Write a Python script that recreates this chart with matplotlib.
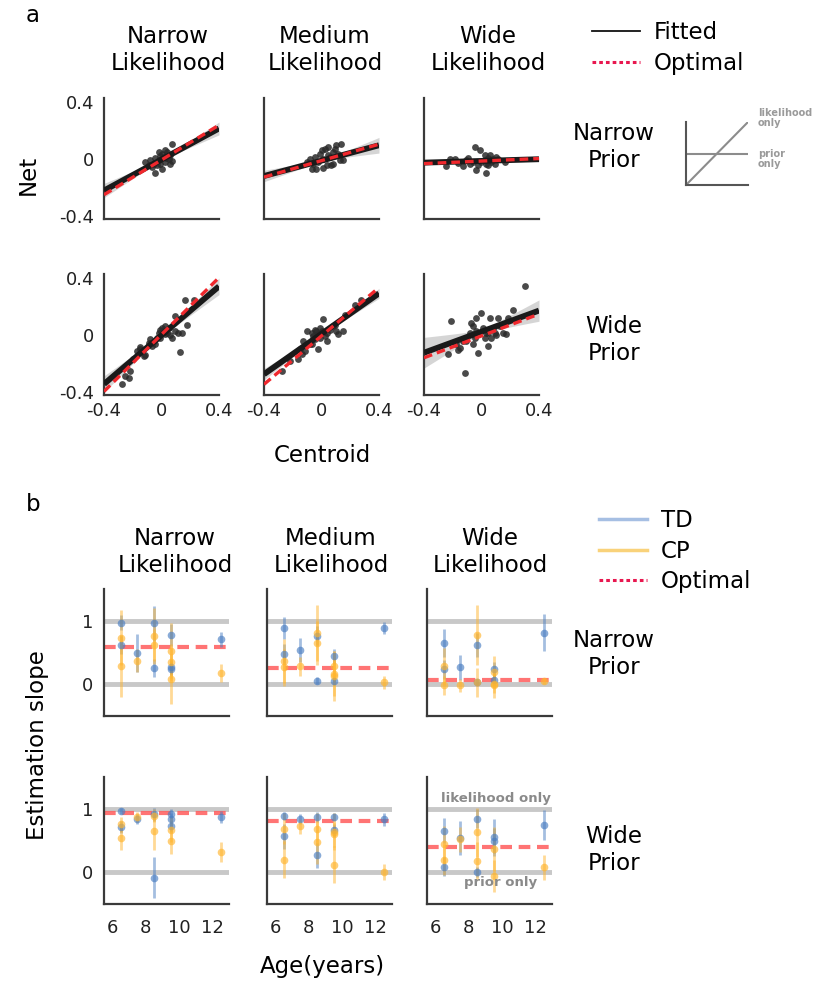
import numpy as np
import matplotlib
matplotlib.use("Agg")
import matplotlib.pyplot as plt
from matplotlib.lines import Line2D

plt.rcParams['font.family'] = ['DejaVu Sans']

W, H = 815, 983

# ---------------- Panel a data ----------------
col_titles = ['Narrow\nLikelihood', 'Medium\nLikelihood', 'Wide\nLikelihood']
row_titles = ['Narrow\nPrior', 'Wide\nPrior']

cen_nl_np = [0.073, -0.113, -0.048, -0.043, -0.020, -0.008, 0.003, 0.015, 0.027, 0.038, 0.050, 0.062,
             0.073, -0.032, -0.067, -0.078, -0.008, 0.027, 0.057, -0.020, 0.003, 0.034, -0.055, -0.090]
net_nl_np = [0.104, -0.019, -0.096, 0.009, -0.007, 0.024, 0.040, 0.016, -0.019, 0.052, 0.0, 0.028,
             -0.014, -0.042, -0.054, -0.007, -0.031, 0.064, -0.031, 0.052, -0.066, 0.009, -0.031, -0.038]
cen_ml_np = [-0.081, -0.058, -0.035, -0.012, 0.012, 0.023, 0.035, 0.046, 0.058, 0.081, 0.092, 0.104, 0.116,
             0.127, 0.139, 0.150, 0.069, 0.012, -0.023, 0.0, 0.046, 0.081, -0.046, -0.104, -0.069]
net_ml_np = [0.0, -0.031, -0.066, 0.040, 0.005, 0.075, -0.042, 0.087, 0.016, 0.052, 0.075, 0.099, 0.040,
             -0.007, 0.104, -0.007, -0.042, -0.061, -0.019, 0.064, 0.028, -0.031, 0.016, -0.019, -0.071]
cen_wl_np = [-0.249, -0.221, -0.187, -0.129, -0.094, -0.059, -0.048, -0.036, 0.029, -0.013, -0.001, 0.022,
             0.034, 0.045, 0.057, 0.068, 0.080, 0.092, 0.115, 0.161, -0.082, -0.024, 0.022, -0.163, -0.105,
             0.045, 0.103]
net_wl_np = [-0.049, 0.0, 0.005, -0.047, 0.009, -0.019, 0.087, -0.078, -0.094, 0.064, -0.019, -0.007,
             -0.031, 0.009, 0.028, -0.019, 0.005, -0.031, 0.0, -0.019, -0.031, -0.042, 0.028, -0.024, -0.007,
             -0.042, 0.016]
cen_nl_wp = [-0.171, -0.153, -0.113, -0.090, -0.078, -0.055, -0.032, -0.020, -0.008, 0.003, 0.015, 0.027,
             0.038, 0.062, 0.097, 0.113, 0.132, 0.143, 0.166, 0.178, 0.097, 0.224, -0.043, -0.067, -0.125,
             -0.195, -0.218, -0.253, -0.272, -0.223, 0.050, 0.073, -0.148, -0.008, 0.027]
net_nl_wp = [-0.112, -0.081, -0.140, -0.054, -0.030, -0.042, -0.019, 0.016, 0.040, 0.051, 0.028, 0.005,
             0.016, 0.0, 0.028, 0.016, -0.116, 0.016, 0.249, 0.074, 0.133, 0.249, -0.065, -0.077, -0.147,
             -0.170, -0.251, -0.286, -0.340, -0.298, 0.051, -0.019, -0.100, -0.019, 0.063]
cen_ml_wp = [-0.277, -0.162, -0.139, -0.127, -0.116, -0.081, -0.069, -0.058, -0.046, -0.035, -0.023, -0.012,
             0.0, 0.012, 0.023, -0.023, 0.035, 0.058, 0.104, 0.116, 0.150, 0.162, 0.231, 0.277, 0.092, -0.104,
             -0.069, -0.220, -0.150, -0.046, -0.012, 0.035, 0.081]
net_ml_wp = [-0.251, -0.170, -0.135, -0.042, -0.112, -0.065, 0.016, -0.007, 0.040, 0.028, 0.005, -0.019,
             0.028, 0.116, -0.007, -0.100, -0.042, 0.040, 0.028, 0.005, 0.028, 0.144, 0.214, 0.249, 0.074, 0.028,
             -0.065, -0.181, -0.100, -0.030, 0.051, 0.016, 0.063]
cen_wl_wp = [-0.210, -0.233, -0.163, -0.152, -0.117, -0.129, -0.082, -0.071, -0.059, -0.059, -0.048, -0.036,
             -0.024, -0.001, 0.010, 0.022, 0.034, 0.045, 0.057, 0.068, 0.080, 0.092, 0.115, 0.126, 0.150, 0.173,
             0.184, 0.219, 0.300, -0.175, -0.105, -0.036, 0.045, 0.103]
net_wl_wp = [0.102, -0.135, -0.105, -0.088, -0.263, -0.042, 0.016, 0.086, 0.063, -0.065, -0.019, 0.028,
             -0.123, 0.156, 0.051, -0.019, 0.016, -0.077, 0.121, -0.019, 0.051, 0.016, 0.121, 0.063, 0.016, 0.005,
             0.121, 0.179, 0.349, -0.065, -0.042, 0.121, 0.016, 0.0]

centroids = [cen_nl_np, cen_ml_np, cen_wl_np, cen_nl_wp, cen_ml_wp, cen_wl_wp]
nets = [net_nl_np, net_ml_np, net_wl_np, net_nl_wp, net_ml_wp, net_wl_wp]

fit_slope = [0.545, 0.27, 0.03, 0.858, 0.71, 0.37]
fit_int = [-0.002, -0.01, -0.012, 0.0, 0.01, 0.025]
opt_slope = [0.611, 0.289, 0.045, 1.0, 0.85, 0.384]
opt_int = [-0.005, -0.01, -0.013, 0.005, -0.005, -0.005]
band_left = [0.05, 0.04, 0.015, 0.058, 0.04, 0.108]
band_right = [0.045, 0.055, 0.015, 0.058, 0.035, 0.075]
band_mid = [0.008, 0.008, 0.005, 0.012, 0.01, 0.02]

a_ticks = [-0.4, 0, 0.4]
a_ticklabels = ['-0.4', '0', '0.4']

# ---------------- Panel b data ----------------
td_age = [[6.5, 6.5, 7.5, 8.5, 8.5, 9.5, 9.5, 9.5, 12.5],
          [6.5, 6.5, 7.5, 8.5, 8.5, 9.5, 9.5, 12.5],
          [6.5, 6.5, 7.5, 8.5, 8.5, 9.5, 9.5, 12.5],
          [6.5, 6.5, 7.5, 8.5, 8.5, 9.5, 9.5, 9.5, 12.5],
          [6.5, 6.5, 7.5, 8.5, 8.5, 9.5, 9.5, 12.5],
          [6.5, 6.5, 7.5, 8.5, 8.5, 9.5, 9.5, 12.5]]
td_val = [[0.98, 0.62, 0.49, 0.97, 0.25, 0.78, 0.26, 0.24, 0.71],
          [0.89, 0.48, 0.54, 0.77, 0.05, 0.44, 0.04, 0.89],
          [0.65, 0.23, 0.26, 0.62, 0.02, 0.23, 0.06, 0.82],
          [0.97, 0.72, 0.85, 0.92, -0.10, 0.92, 0.84, 0.73, 0.88],
          [0.89, 0.57, 0.85, 0.88, 0.26, 0.88, 0.67, 0.84],
          [0.66, 0.08, 0.54, 0.85, 0.00, 0.55, 0.50, 0.75]]
td_err = [[0.12, 0.15, 0.30, 0.28, 0.14, 0.18, 0.12, 0.10, 0.12],
          [0.18, 0.15, 0.20, 0.15, 0.06, 0.12, 0.06, 0.10],
          [0.22, 0.15, 0.20, 0.20, 0.05, 0.12, 0.10, 0.30],
          [0.05, 0.10, 0.08, 0.10, 0.33, 0.08, 0.10, 0.10, 0.10],
          [0.06, 0.20, 0.08, 0.08, 0.20, 0.06, 0.10, 0.10],
          [0.20, 0.15, 0.27, 0.15, 0.08, 0.30, 0.20, 0.24]]
cp_age = [[6.5, 6.5, 7.5, 8.5, 8.5, 9.5, 9.5, 9.5, 12.5],
          [6.5, 6.5, 7.5, 8.5, 8.5, 9.5, 9.5, 9.5, 12.5],
          [6.5, 6.5, 7.5, 8.5, 8.5, 9.5, 9.5, 9.5, 12.5],
          [6.5, 6.5, 7.5, 8.5, 8.5, 9.5, 9.5, 12.5],
          [6.5, 6.5, 7.5, 8.5, 8.5, 9.5, 9.5, 9.5, 12.5],
          [6.5, 6.5, 7.5, 8.5, 8.5, 9.5, 9.5, 12.5]]
cp_val = [[0.74, 0.28, 0.37, 0.76, 0.62, 0.53, 0.34, 0.08, 0.17],
          [0.36, 0.26, 0.28, 0.82, 0.65, 0.28, 0.15, 0.12, 0.02],
          [0.28, -0.03, -0.03, 0.78, 0.02, 0.19, 0.00, -0.03, 0.04],
          [0.76, 0.54, 0.87, 0.90, 0.66, 0.67, 0.49, 0.32],
          [0.69, 0.19, 0.73, 0.69, 0.47, 0.64, 0.60, 0.11, 0.00],
          [0.44, 0.19, 0.52, 0.63, 0.17, 0.36, -0.07, 0.07]]
cp_err = [[0.44, 0.50, 0.18, 0.45, 0.25, 0.45, 0.30, 0.40, 0.14],
          [0.35, 0.30, 0.15, 0.45, 0.35, 0.25, 0.35, 0.40, 0.10],
          [0.30, 0.15, 0.10, 0.48, 0.23, 0.25, 0.15, 0.20, 0.05],
          [0.12, 0.20, 0.08, 0.10, 0.32, 0.20, 0.20, 0.16],
          [0.25, 0.30, 0.12, 0.25, 0.35, 0.30, 0.20, 0.30, 0.13],
          [0.30, 0.25, 0.20, 0.40, 0.30, 0.35, 0.25, 0.20]]
optimal_b = [0.585, 0.255, 0.053, 0.94, 0.81, 0.39]
b_xticks = [6, 8, 10, 12]
b_yticks = [0, 1]

TD_C = '#4a7ec2'
CP_C = '#ffb52e'
OPT_LEG = '#e8174f'

fig = plt.figure(figsize=(W / 100, H / 100), dpi=100)


def ax_at(l, t, w, h):
    return fig.add_axes([l / W, 1 - (t + h) / H, w / W, h / H])


def style(ax, fs):
    for s in ['top', 'right']:
        ax.spines[s].set_visible(False)
    for s in ['left', 'bottom']:
        ax.spines[s].set_color('#3a3a3a')
        ax.spines[s].set_linewidth(1.6)
    ax.tick_params(length=0, labelsize=fs, colors='#222222')


# ---------------- Panel a ----------------
a_left = [104, 264, 424]
a_top = [98, 274]
for r in range(2):
    for c in range(3):
        i = r * 3 + c
        ax = ax_at(a_left[c], a_top[r], 115, 121)
        style(ax, 13)
        x = np.array(centroids[i])
        y = np.array(nets[i])
        xx = np.linspace(-0.4, 0.4, 200)
        xc = x.mean()
        frac = np.where(xx < xc, (xx - xc) / (-0.4 - xc), (xx - xc) / (0.4 - xc))
        hend = np.where(xx < xc, band_left[i], band_right[i])
        hw = np.sqrt(band_mid[i] ** 2 + (hend ** 2 - band_mid[i] ** 2) * frac ** 2)
        yf = fit_slope[i] * xx + fit_int[i]
        ax.fill_between(xx, yf - hw, yf + hw, color='#c8c8c8', alpha=0.75, lw=0, zorder=1)
        ax.scatter(x, y, s=24, color='#2a2a2a', alpha=0.85, lw=0, zorder=2)
        ax.plot(xx, yf, color='#1a1a1a', lw=4.2, zorder=3, solid_capstyle='butt')
        ax.plot(xx, opt_slope[i] * xx + opt_int[i], color='#f0282d', lw=2.4,
                dashes=(2.6, 1.5), zorder=4)
        ax.set_xlim(-0.4, 0.4)
        ax.set_ylim(-0.42, 0.43)
        ax.set_yticks(a_ticks)
        if c == 0:
            ax.set_yticklabels(a_ticklabels)
        else:
            ax.set_yticklabels([])
        ax.set_xticks(a_ticks)
        if r == 1:
            ax.set_xticklabels(a_ticklabels)
        else:
            ax.set_xticklabels([])
        ax.tick_params(axis='y', pad=7)
        ax.tick_params(axis='x', pad=5)

# column titles a
for cx, t in zip([168, 325, 488], col_titles):
    fig.text(cx / W, 1 - 50 / H, t, ha='center', va='center', fontsize=16.5, linespacing=1.25)
for cy, t in zip([147, 340], row_titles):
    fig.text(614 / W, 1 - cy / H, t, ha='center', va='center', fontsize=16.5, linespacing=1.25)

fig.text(28 / W, 1 - 175 / H, 'Net', rotation=90, ha='center', va='center', fontsize=16.5)
fig.text(322 / W, 1 - 455 / H, 'Centroid', ha='center', va='center', fontsize=16.5)
fig.text(33 / W, 1 - 15 / H, 'a', ha='center', va='center', fontsize=16.5)
fig.text(33 / W, 1 - 505 / H, 'b', ha='center', va='center', fontsize=16.5)

# legend a
leg_a = [Line2D([], [], color='#111111', lw=1.3),
         Line2D([], [], color=OPT_LEG, lw=2.2, linestyle=(0, (1.2, 1.0)))]
fig.legend(leg_a, ['Fitted', 'Optimal'], loc='upper left',
           bbox_to_anchor=(583 / W, 1 - 12 / H), frameon=False, fontsize=16.5,
           handlelength=2.1, handletextpad=0.6, labelspacing=0.33, borderaxespad=0)

# inset diagram
ins = ax_at(686, 122, 62, 63)
ins.plot([0, 1], [0, 1], color='#8c8c8c', lw=1.5)
ins.plot([0, 1], [0.5, 0.5], color='#8c8c8c', lw=1.5)
ins.set_xlim(0, 1)
ins.set_ylim(0, 1)
for s in ['top', 'right']:
    ins.spines[s].set_visible(False)
for s in ['left', 'bottom']:
    ins.spines[s].set_color('#555555')
    ins.spines[s].set_linewidth(1.5)
ins.set_xticks([])
ins.set_yticks([])
fig.text(758 / W, 1 - 118 / H, 'likelihood\nonly', ha='left', va='center', fontsize=7,
         color='#9a9a9a', fontweight='bold', linespacing=1.1)
fig.text(758 / W, 1 - 159 / H, 'prior\nonly', ha='left', va='center', fontsize=7,
         color='#9a9a9a', fontweight='bold', linespacing=1.1)

# ---------------- Panel b ----------------
b_left = [104, 267, 427]
b_top = [589, 777]
for r in range(2):
    for c in range(3):
        i = r * 3 + c
        ax = ax_at(b_left[c], b_top[r], 125, 127)
        style(ax, 13)
        ax.set_xlim(5.5, 13.0)
        ax.set_ylim(-0.52, 1.52)
        for yv in b_yticks:
            ax.axhline(yv, color='#c8c8c8', lw=3.5, zorder=1)
        ax.axhline(optimal_b[i], color='#ff5c5c', alpha=0.85, lw=3, dashes=(2.8, 1.6), zorder=2)
        ax.errorbar(td_age[i], td_val[i], yerr=td_err[i], fmt='none', ecolor=TD_C,
                    elinewidth=2, alpha=0.5, zorder=3)
        ax.errorbar(cp_age[i], cp_val[i], yerr=cp_err[i], fmt='none', ecolor=CP_C,
                    elinewidth=2, alpha=0.5, zorder=3)
        ax.plot(td_age[i], td_val[i], 'o', color=TD_C, ms=5.5, alpha=0.65, mew=0, zorder=4)
        ax.plot(cp_age[i], cp_val[i], 'o', color=CP_C, ms=5.5, alpha=0.65, mew=0, zorder=4)
        ax.set_yticks(b_yticks)
        if c == 0:
            ax.set_yticklabels([str(v) for v in b_yticks])
        else:
            ax.set_yticklabels([])
        ax.set_xticks(b_xticks)
        if r == 1:
            ax.set_xticklabels([str(v) for v in b_xticks])
        else:
            ax.set_xticklabels([])
        ax.tick_params(axis='y', pad=8)
        ax.tick_params(axis='x', pad=11)
        if i == 5:
            ax.text(12.95, 1.17, 'likelihood only', ha='right', va='center', fontsize=9.5,
                    color='#8a8a8a', fontweight='bold', zorder=5)
            ax.text(9.9, -0.17, 'prior only', ha='center', va='center', fontsize=9.5,
                    color='#8a8a8a', fontweight='bold', zorder=5)

for cx, t in zip([175, 331, 490], col_titles):
    fig.text(cx / W, 1 - 552 / H, t, ha='center', va='center', fontsize=16.5, linespacing=1.25)
for cy, t in zip([654, 850], row_titles):
    fig.text(614 / W, 1 - cy / H, t, ha='center', va='center', fontsize=16.5, linespacing=1.25)

fig.text(38 / W, 1 - 745 / H, 'Estimation slope', rotation=90, ha='center', va='center', fontsize=16.5)
fig.text(322 / W, 1 - 967 / H, 'Age(years)', ha='center', va='center', fontsize=16.5)

leg_b = [Line2D([], [], color='#a6bfe3', lw=2.5),
         Line2D([], [], color='#f9d27a', lw=2.5),
         Line2D([], [], color=OPT_LEG, lw=2.2, linestyle=(0, (1.2, 1.0)))]
fig.legend(leg_b, ['TD', 'CP', 'Optimal'], loc='upper left',
           bbox_to_anchor=(590 / W, 1 - 500 / H), frameon=False, fontsize=16.5,
           handlelength=2.1, handletextpad=0.6, labelspacing=0.33, borderaxespad=0)

fig.savefig('out.png', dpi=100)
